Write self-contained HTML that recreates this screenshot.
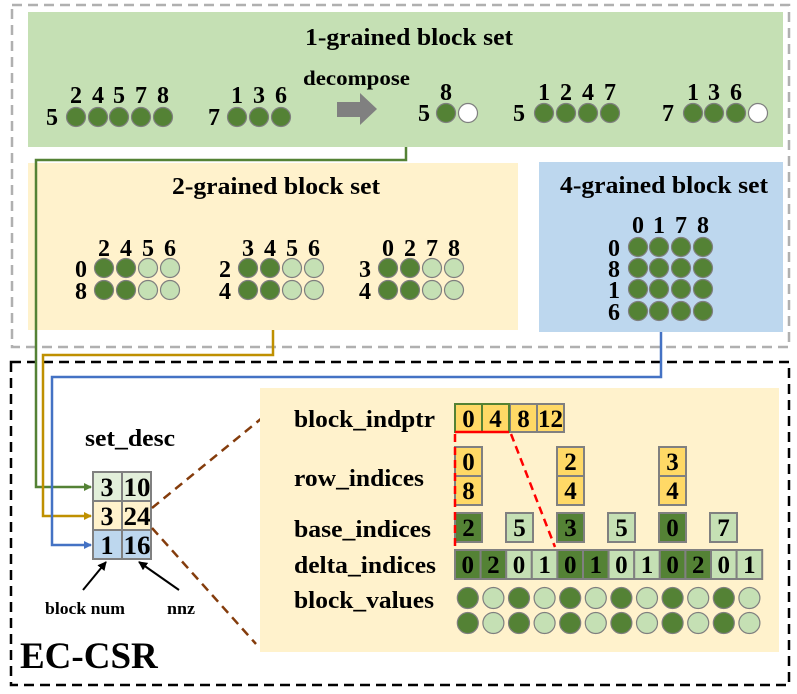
<!DOCTYPE html>
<html><head><meta charset="utf-8"><style>
html,body{margin:0;padding:0;background:#fff}
svg{display:block}
text{font-family:"Liberation Serif",serif;font-weight:bold;fill:#000}
</style></head><body>
<svg width="797" height="694" viewBox="0 0 797 694" xmlns="http://www.w3.org/2000/svg">
<defs>
<marker id="ag" markerWidth="8" markerHeight="8" refX="7" refY="4" orient="auto" markerUnits="userSpaceOnUse"><path d="M0,0 L8,4 L0,8 z" fill="#548235"/></marker>
<marker id="ay" markerWidth="8" markerHeight="8" refX="7" refY="4" orient="auto" markerUnits="userSpaceOnUse"><path d="M0,0 L8,4 L0,8 z" fill="#bf9000"/></marker>
<marker id="ab" markerWidth="8" markerHeight="8" refX="7" refY="4" orient="auto" markerUnits="userSpaceOnUse"><path d="M0,0 L8,4 L0,8 z" fill="#4472c4"/></marker>
<marker id="ak" markerWidth="9" markerHeight="9" refX="8" refY="4.5" orient="auto" markerUnits="userSpaceOnUse"><path d="M0,0 L9,4.5 L0,9 z" fill="#000"/></marker>
</defs>
<rect x="12" y="5" width="777" height="342" fill="none" stroke="#b0b0b0" stroke-width="2.5" stroke-dasharray="10,6"/>
<rect x="28" y="12" width="755" height="135" fill="#c5e0b4"/>
<text x="305" y="45" font-size="24" textLength="208" lengthAdjust="spacingAndGlyphs">1-grained block set</text>
<g font-size="24">
<text x="46" y="125">5</text>
<text x="76" y="103" text-anchor="middle">2</text><text x="98" y="103" text-anchor="middle">4</text><text x="119" y="103" text-anchor="middle">5</text><text x="141" y="103" text-anchor="middle">7</text><text x="163" y="103" text-anchor="middle">8</text>
<text x="208" y="125">7</text>
<text x="237" y="103" text-anchor="middle">1</text><text x="259" y="103" text-anchor="middle">3</text><text x="281" y="103" text-anchor="middle">6</text>
<text x="446" y="100" text-anchor="middle">8</text>
<text x="418" y="121">5</text>
<text x="513" y="121">5</text>
<text x="544" y="100" text-anchor="middle">1</text><text x="566" y="100" text-anchor="middle">2</text><text x="588" y="100" text-anchor="middle">4</text><text x="610" y="100" text-anchor="middle">7</text>
<text x="662" y="121">7</text>
<text x="693" y="100" text-anchor="middle">1</text><text x="714" y="100" text-anchor="middle">3</text><text x="736" y="100" text-anchor="middle">6</text>
</g>
<text x="303" y="85" font-size="21" textLength="107" lengthAdjust="spacingAndGlyphs">decompose</text>
<path d="M337,102 H360 V93 L377,109 L360,125 V117 H337 z" fill="#808080"/>
<g stroke="#7f7f7f" stroke-width="1.2">
<g fill="#548235">
<circle cx="76" cy="117" r="9.5"/><circle cx="98" cy="117" r="9.5"/><circle cx="119" cy="117" r="9.5"/><circle cx="141" cy="117" r="9.5"/><circle cx="163" cy="117" r="9.5"/>
<circle cx="237" cy="117" r="9.5"/><circle cx="259" cy="117" r="9.5"/><circle cx="281" cy="117" r="9.5"/>
<circle cx="446" cy="113" r="9.5"/>
<circle cx="544" cy="113" r="9.5"/><circle cx="566" cy="113" r="9.5"/><circle cx="588" cy="113" r="9.5"/><circle cx="610" cy="113" r="9.5"/>
<circle cx="693" cy="113" r="9.5"/><circle cx="714" cy="113" r="9.5"/><circle cx="736" cy="113" r="9.5"/>
</g>
<g fill="#fff"><circle cx="468" cy="113" r="9.5"/><circle cx="758" cy="113" r="9.5"/></g>
</g>
<rect x="28" y="163" width="490" height="167" fill="#fff2cc"/>
<text x="172" y="194" font-size="24" textLength="208" lengthAdjust="spacingAndGlyphs">2-grained block set</text>
<g font-size="24">
<text x="104" y="256" text-anchor="middle">2</text><text x="126" y="256" text-anchor="middle">4</text><text x="148" y="256" text-anchor="middle">5</text><text x="170" y="256" text-anchor="middle">6</text>
<text x="75" y="277">0</text><text x="75" y="299">8</text>
<text x="248" y="256" text-anchor="middle">3</text><text x="270" y="256" text-anchor="middle">4</text><text x="292" y="256" text-anchor="middle">5</text><text x="314" y="256" text-anchor="middle">6</text>
<text x="219" y="277">2</text><text x="219" y="299">4</text>
<text x="388" y="256" text-anchor="middle">0</text><text x="410" y="256" text-anchor="middle">2</text><text x="432" y="256" text-anchor="middle">7</text><text x="454" y="256" text-anchor="middle">8</text>
<text x="359" y="277">3</text><text x="359" y="299">4</text>
</g>
<g stroke="#7f7f7f" stroke-width="1.2">
<g fill="#548235">
<circle cx="104" cy="268" r="9.5"/><circle cx="126" cy="268" r="9.5"/><circle cx="104" cy="290" r="9.5"/><circle cx="126" cy="290" r="9.5"/>
<circle cx="248" cy="268" r="9.5"/><circle cx="270" cy="268" r="9.5"/><circle cx="248" cy="290" r="9.5"/><circle cx="270" cy="290" r="9.5"/>
<circle cx="388" cy="268" r="9.5"/><circle cx="410" cy="268" r="9.5"/><circle cx="388" cy="290" r="9.5"/><circle cx="410" cy="290" r="9.5"/>
</g>
<g fill="#c5e0b4">
<circle cx="148" cy="268" r="9.5"/><circle cx="170" cy="268" r="9.5"/><circle cx="148" cy="290" r="9.5"/><circle cx="170" cy="290" r="9.5"/>
<circle cx="292" cy="268" r="9.5"/><circle cx="314" cy="268" r="9.5"/><circle cx="292" cy="290" r="9.5"/><circle cx="314" cy="290" r="9.5"/>
<circle cx="432" cy="268" r="9.5"/><circle cx="454" cy="268" r="9.5"/><circle cx="432" cy="290" r="9.5"/><circle cx="454" cy="290" r="9.5"/>
</g>
</g>
<rect x="539" y="162" width="244" height="170" fill="#bdd7ee"/>
<text x="560" y="193" font-size="24" textLength="208" lengthAdjust="spacingAndGlyphs">4-grained block set</text>
<g font-size="24">
<text x="638" y="233" text-anchor="middle">0</text><text x="659" y="233" text-anchor="middle">1</text><text x="681" y="233" text-anchor="middle">7</text><text x="703" y="233" text-anchor="middle">8</text>
<text x="608" y="256">0</text><text x="608" y="277">8</text><text x="608" y="298">1</text><text x="608" y="320">6</text>
</g>
<g stroke="#7f7f7f" stroke-width="1.2" fill="#548235">
<circle cx="638" cy="247" r="9.5"/><circle cx="659" cy="247" r="9.5"/><circle cx="681" cy="247" r="9.5"/><circle cx="703" cy="247" r="9.5"/>
<circle cx="638" cy="268" r="9.5"/><circle cx="659" cy="268" r="9.5"/><circle cx="681" cy="268" r="9.5"/><circle cx="703" cy="268" r="9.5"/>
<circle cx="638" cy="289" r="9.5"/><circle cx="659" cy="289" r="9.5"/><circle cx="681" cy="289" r="9.5"/><circle cx="703" cy="289" r="9.5"/>
<circle cx="638" cy="311" r="9.5"/><circle cx="659" cy="311" r="9.5"/><circle cx="681" cy="311" r="9.5"/><circle cx="703" cy="311" r="9.5"/>
</g>
<rect x="11" y="362" width="778" height="323" fill="none" stroke="#000" stroke-width="2.5" stroke-dasharray="10,6"/>
<polyline points="406,147 406,160 36,160 36,487 91,487" fill="none" stroke="#548235" stroke-width="2.5" marker-end="url(#ag)"/>
<polyline points="273,330 273,355 43,355 43,516 91,516" fill="none" stroke="#bf9000" stroke-width="2.5" marker-end="url(#ay)"/>
<polyline points="661,332 661,377 52,377 52,545 91,545" fill="none" stroke="#4472c4" stroke-width="2.5" marker-end="url(#ab)"/>
<text x="85" y="446" font-size="24" textLength="90" lengthAdjust="spacingAndGlyphs">set_desc</text>
<g stroke="#808080" stroke-width="2">
<rect x="93" y="472" width="29" height="29" fill="#e2efda"/><rect x="122" y="472" width="29" height="29" fill="#e2efda"/>
<rect x="93" y="501" width="29" height="29" fill="#fff2cc"/><rect x="122" y="501" width="29" height="29" fill="#fff2cc"/>
<rect x="93" y="530" width="29" height="29" fill="#bdd7ee"/><rect x="122" y="530" width="29" height="29" fill="#bdd7ee"/>
</g>
<g font-size="26">
<text x="107" y="496" text-anchor="middle">3</text><text x="137" y="496" text-anchor="middle" textLength="27" lengthAdjust="spacingAndGlyphs">10</text>
<text x="107" y="525" text-anchor="middle">3</text><text x="137" y="525" text-anchor="middle" textLength="27" lengthAdjust="spacingAndGlyphs">24</text>
<text x="107" y="554" text-anchor="middle">1</text><text x="137" y="554" text-anchor="middle" textLength="27" lengthAdjust="spacingAndGlyphs">16</text>
</g>
<line x1="83" y1="590" x2="106" y2="562" stroke="#000" stroke-width="2" marker-end="url(#ak)"/>
<line x1="179" y1="590" x2="139" y2="562" stroke="#000" stroke-width="2" marker-end="url(#ak)"/>
<text x="45" y="614" font-size="17" textLength="80" lengthAdjust="spacingAndGlyphs">block num</text>
<text x="167" y="614" font-size="17" textLength="28" lengthAdjust="spacingAndGlyphs">nnz</text>
<text x="20" y="668" font-size="37">EC-CSR</text>
<line x1="152" y1="508" x2="262" y2="418" stroke="#843c0c" stroke-width="2.5" stroke-dasharray="9,6"/>
<line x1="152" y1="528" x2="256" y2="644" stroke="#843c0c" stroke-width="2.5" stroke-dasharray="9,6"/>
<rect x="260" y="388" width="519" height="264" fill="#fff2cc"/>
<g font-size="24">
<text x="294" y="427" textLength="141" lengthAdjust="spacingAndGlyphs">block_indptr</text>
<text x="294" y="486" textLength="130" lengthAdjust="spacingAndGlyphs">row_indices</text>
<text x="294" y="537" textLength="137" lengthAdjust="spacingAndGlyphs">base_indices</text>
<text x="294" y="573" textLength="142" lengthAdjust="spacingAndGlyphs">delta_indices</text>
<text x="294" y="608" textLength="140" lengthAdjust="spacingAndGlyphs">block_values</text>
</g>
<g stroke="#808080" stroke-width="2" fill="#ffd966">
<rect x="510" y="404" width="27" height="28"/><rect x="537" y="404" width="27" height="28"/>
<rect x="455" y="447" width="27" height="29"/><rect x="455" y="476" width="27" height="29"/>
<rect x="557" y="447" width="27" height="29"/><rect x="557" y="476" width="27" height="29"/>
<rect x="659" y="447" width="27" height="29"/><rect x="659" y="476" width="27" height="29"/>
</g>
<g stroke="#548235" stroke-width="2" fill="#ffd966">
<rect x="455" y="404" width="27" height="28"/><rect x="482" y="404" width="27" height="28"/>
</g>
<g stroke="#808080" stroke-width="2">
<rect x="455" y="513" width="27" height="29" fill="#548235"/>
<rect x="506" y="513" width="27" height="29" fill="#c5e0b4"/>
<rect x="557" y="513" width="27" height="29" fill="#548235"/>
<rect x="608" y="513" width="27" height="29" fill="#c5e0b4"/>
<rect x="659" y="513" width="27" height="29" fill="#548235"/>
<rect x="710" y="513" width="27" height="29" fill="#c5e0b4"/>
</g>
<g font-size="25" text-anchor="middle">
<text x="468.5" y="427">0</text><text x="495.5" y="427">4</text><text x="523.5" y="427">8</text><text x="550.5" y="427" textLength="25" lengthAdjust="spacingAndGlyphs">12</text>
<text x="468.5" y="470">0</text><text x="468.5" y="499">8</text>
<text x="570.5" y="470">2</text><text x="570.5" y="499">4</text>
<text x="672.5" y="470">3</text><text x="672.5" y="499">4</text>
<text x="468.5" y="536">2</text><text x="519.5" y="536">5</text><text x="570.5" y="536">3</text><text x="621.5" y="536">5</text><text x="672.5" y="536">0</text><text x="723.5" y="536">7</text>
</g>
<g stroke="#808080" stroke-width="2">
<rect x="455" y="550" width="25.6" height="29" fill="#548235"/>
<rect x="480.6" y="550" width="25.6" height="29" fill="#548235"/>
<rect x="506.2" y="550" width="25.6" height="29" fill="#c5e0b4"/>
<rect x="531.8" y="550" width="25.6" height="29" fill="#c5e0b4"/>
<rect x="557.4" y="550" width="25.6" height="29" fill="#548235"/>
<rect x="583" y="550" width="25.6" height="29" fill="#548235"/>
<rect x="608.6" y="550" width="25.6" height="29" fill="#c5e0b4"/>
<rect x="634.2" y="550" width="25.6" height="29" fill="#c5e0b4"/>
<rect x="659.8" y="550" width="25.6" height="29" fill="#548235"/>
<rect x="685.4" y="550" width="25.6" height="29" fill="#548235"/>
<rect x="711" y="550" width="25.6" height="29" fill="#c5e0b4"/>
<rect x="736.6" y="550" width="25.6" height="29" fill="#c5e0b4"/>
</g>
<g font-size="25" text-anchor="middle">
<text x="467.8" y="573">0</text><text x="493.4" y="573">2</text><text x="519" y="573">0</text><text x="544.6" y="573">1</text>
<text x="570.2" y="573">0</text><text x="595.8" y="573">1</text><text x="621.4" y="573">0</text><text x="647" y="573">1</text>
<text x="672.6" y="573">0</text><text x="698.2" y="573">2</text><text x="723.8" y="573">0</text><text x="749.4" y="573">1</text>
</g>
<g stroke="#7f7f7f" stroke-width="1.2">
<g fill="#548235">
<circle cx="467.8" cy="598" r="10.5"/><circle cx="519" cy="598" r="10.5"/><circle cx="570.2" cy="598" r="10.5"/><circle cx="621.4" cy="598" r="10.5"/><circle cx="672.6" cy="598" r="10.5"/><circle cx="723.8" cy="598" r="10.5"/>
<circle cx="467.8" cy="623" r="10.5"/><circle cx="519" cy="623" r="10.5"/><circle cx="570.2" cy="623" r="10.5"/><circle cx="621.4" cy="623" r="10.5"/><circle cx="672.6" cy="623" r="10.5"/><circle cx="723.8" cy="623" r="10.5"/>
</g>
<g fill="#c5e0b4">
<circle cx="493.4" cy="598" r="10.5"/><circle cx="544.6" cy="598" r="10.5"/><circle cx="595.8" cy="598" r="10.5"/><circle cx="647" cy="598" r="10.5"/><circle cx="698.2" cy="598" r="10.5"/><circle cx="749.4" cy="598" r="10.5"/>
<circle cx="493.4" cy="623" r="10.5"/><circle cx="544.6" cy="623" r="10.5"/><circle cx="595.8" cy="623" r="10.5"/><circle cx="647" cy="623" r="10.5"/><circle cx="698.2" cy="623" r="10.5"/><circle cx="749.4" cy="623" r="10.5"/>
</g>
</g>
<line x1="455" y1="432" x2="509" y2="432" stroke="#ff0000" stroke-width="2.5"/>
<line x1="455" y1="434" x2="455" y2="547" stroke="#ff0000" stroke-width="2.5" stroke-dasharray="8,5"/>
<line x1="511" y1="434" x2="555" y2="547" stroke="#ff0000" stroke-width="2.5" stroke-dasharray="8,5"/>
</svg>
</body></html>
